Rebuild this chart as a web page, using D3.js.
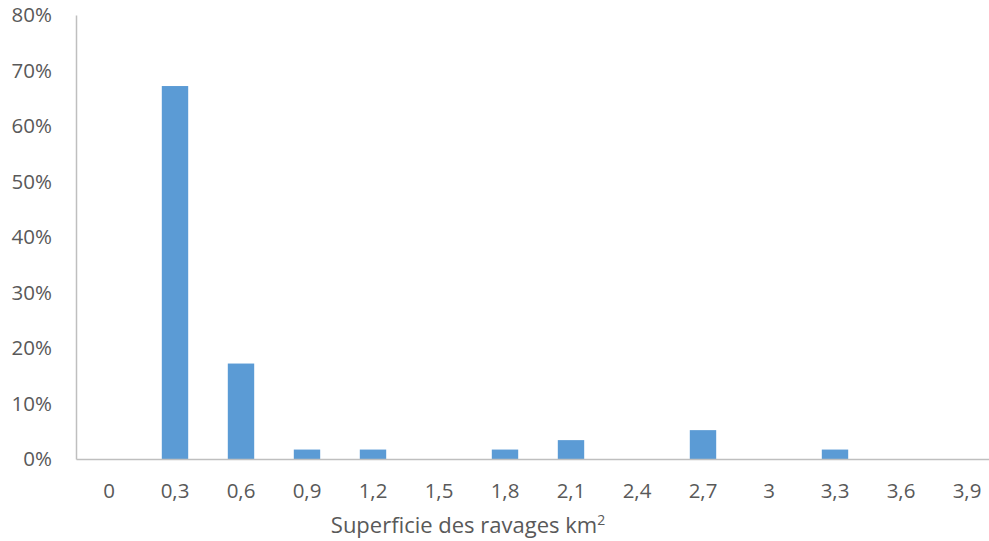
<!DOCTYPE html>
<html>
<head>
<meta charset="utf-8">
<script src="https://cdn.jsdelivr.net/npm/d3@7.9.0/dist/d3.min.js"></script>
<style>
  body { margin: 0; background: #fff; }
  svg { display: block; }
</style>
</head>
<body>
<div id="chart"></div>
<script>
const categories = ["0", "0,3", "0,6", "0,9", "1,2", "1,5", "1,8", "2,1", "2,4", "2,7", "3", "3,3", "3,6", "3,9"];
const shares = [0, 0.672, 0.172, 0.017, 0.017, 0, 0.017, 0.034, 0, 0.052, 0, 0.017, 0, 0];
const yTicks = [0, 0.1, 0.2, 0.3, 0.4, 0.5, 0.6, 0.7, 0.8];
const axisTitle = "Superficie des ravages km";

const width = 989, height = 541;
const plot = { left: 76, right: 1000, top: 15, bottom: 459 };
const font = '"Open Sans", "Liberation Sans", sans-serif';

const svg = d3.select('#chart').append('svg')
    .attr('width', width)
    .attr('height', height)
    .attr('font-family', font);

const x = d3.scaleBand()
    .domain(categories)
    .range([plot.left, plot.right])
    .paddingInner(0.6)
    .paddingOuter(0.3);

const y = d3.scaleLinear()
    .domain([0, 0.8])
    .range([plot.bottom, plot.top]);

// bars
svg.append('g')
    .selectAll('rect')
    .data(categories.map((c, i) => ({ c, v: shares[i] })))
    .join('rect')
    .attr('x', d => x(d.c))
    .attr('width', x.bandwidth())
    .attr('y', d => y(d.v))
    .attr('height', d => plot.bottom - y(d.v))
    .attr('fill', '#5b9bd5');

// y axis
const yAxis = svg.append('g')
    .attr('transform', `translate(${plot.left},0)`)
    .call(d3.axisLeft(y).tickValues(yTicks).tickSize(0).tickPadding(24).tickFormat(d3.format('.0%')))
    .attr('font-family', font)
    .attr('font-size', 20.5);
yAxis.select('.domain').attr('stroke', '#bfbfbf').attr('stroke-width', 1.5);
yAxis.selectAll('text').attr('fill', '#595959');

// x axis
const xAxis = svg.append('g')
    .attr('transform', `translate(0,${plot.bottom})`)
    .call(d3.axisBottom(x).tickSize(0).tickPadding(24))
    .attr('font-family', font)
    .attr('font-size', 20.5);
xAxis.select('.domain').attr('stroke', '#bfbfbf').attr('stroke-width', 1.5);
xAxis.selectAll('text').attr('fill', '#595959');

// axis title
const title = svg.append('text')
    .attr('x', 468)
    .attr('y', 533)
    .attr('text-anchor', 'middle')
    .attr('fill', '#595959')
    .attr('font-size', 22)
    .text(axisTitle);
title.append('tspan')
    .attr('dy', -8)
    .attr('font-size', 14)
    .text('2');
</script>
</body>
</html>
